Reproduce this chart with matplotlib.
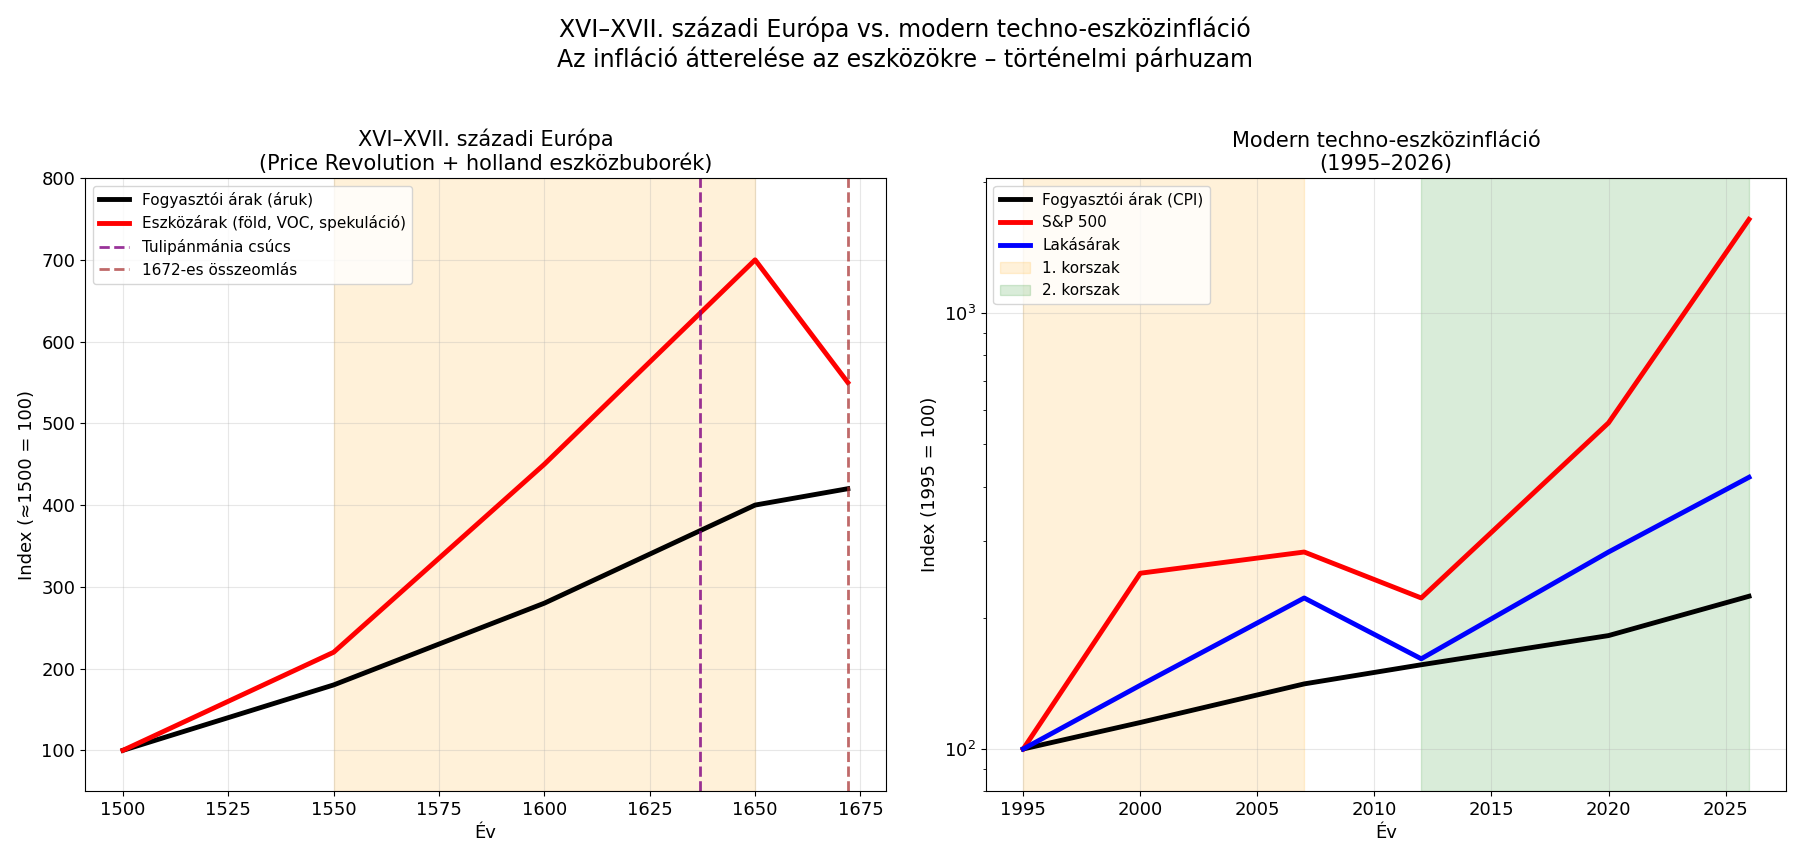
import matplotlib.pyplot as plt

# Left panel data
hist_years = [1500, 1550, 1600, 1650, 1672]
hist_cpi = [100, 180, 280, 400, 420]
hist_assets = [100, 220, 450, 700, 550]
tulip_year = 1637
crash_year = 1672

# Right panel data
mod_years = [1995, 2000, 2007, 2012, 2020, 2026]
mod_cpi = [100, 115, 141, 156, 182, 224]
mod_sp500 = [100, 253, 283, 222, 560, 1640]
mod_housing = [100, 140, 222, 161, 283, 420]

fig, (ax1, ax2) = plt.subplots(1, 2, figsize=(18.1, 8.48), dpi=100)
fig.suptitle("XVI–XVII. századi Európa vs. modern techno-eszközinfláció\n"
             "Az infláció átterelése az eszközökre – történelmi párhuzam", fontsize=17)

ax1.axvspan(1550, 1650, color="orange", alpha=0.15)
ax1.plot(hist_years, hist_cpi, color="black", lw=3.5, label="Fogyasztói árak (áruk)")
ax1.plot(hist_years, hist_assets, color="red", lw=3.5, label="Eszközárak (föld, VOC, spekuláció)")
ax1.axvline(tulip_year, color="purple", ls="--", lw=2, alpha=0.8, label="Tulipánmánia csúcs")
ax1.axvline(crash_year, color="brown", ls="--", lw=2, alpha=0.7, label="1672-es összeomlás")
ax1.set_ylim(50, 800)
ax1.set_xlim(1491, 1681)
ax1.set_title("XVI–XVII. századi Európa\n(Price Revolution + holland eszközbuborék)", fontsize=15)
ax1.set_xlabel("Év", fontsize=13)
ax1.set_ylabel("Index (≈1500 = 100)", fontsize=13)
ax1.grid(alpha=0.3)
ax1.legend(loc="upper left", fontsize=11)
ax1.tick_params(labelsize=13)

ax2.axvspan(1995, 2007, color="orange", alpha=0.15, label="1. korszak")
ax2.axvspan(2012, 2026, color="green", alpha=0.15, label="2. korszak")
ax2.plot(mod_years, mod_cpi, color="black", lw=3.5, label="Fogyasztói árak (CPI)")
ax2.plot(mod_years, mod_sp500, color="red", lw=3.5, label="S&P 500")
ax2.plot(mod_years, mod_housing, color="blue", lw=3.5, label="Lakásárak")
ax2.set_yscale("log")
ax2.set_ylim(80, 2040)
ax2.set_xlim(1993.4, 2027.6)
ax2.set_title("Modern techno-eszközinfláció\n(1995–2026)", fontsize=15)
ax2.set_xlabel("Év", fontsize=13)
ax2.set_ylabel("Index (1995 = 100)", fontsize=13)
ax2.grid(alpha=0.3)
h, l = ax2.get_legend_handles_labels()
order = [2, 3, 4, 0, 1]
ax2.legend([h[i] for i in order], [l[i] for i in order], loc="upper left", fontsize=11)
ax2.tick_params(labelsize=13)

plt.subplots_adjust(left=0.047, right=0.987, top=0.79, bottom=0.067, wspace=0.125)
plt.savefig("out.png", dpi=100)
